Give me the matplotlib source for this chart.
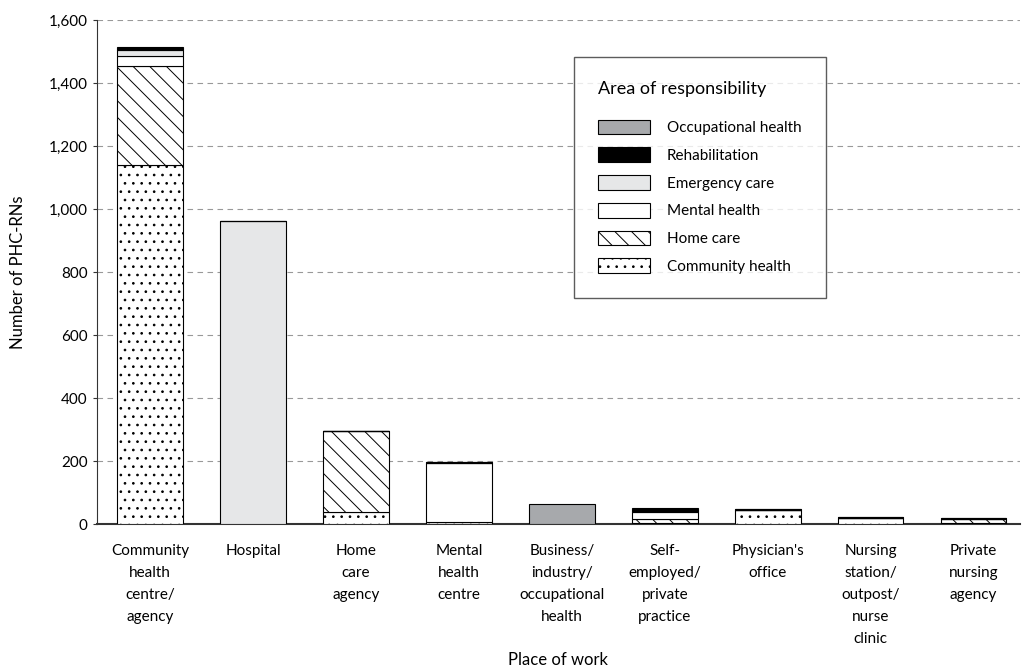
import matplotlib
matplotlib.use('Agg')
import matplotlib.pyplot as plt
import numpy as np
from matplotlib.ticker import FuncFormatter, MultipleLocator

plt.rcParams['font.family'] = ['Lato', 'DejaVu Sans']
plt.rcParams['hatch.linewidth'] = 0.7

places = ['Community\nhealth\ncentre/\nagency', 'Hospital', 'Home\ncare\nagency',
          'Mental\nhealth\ncentre', 'Business/\nindustry/\noccupational\nhealth',
          'Self-\nemployed/\nprivate\npractice', "Physician's\noffice",
          'Nursing\nstation/\noutpost/\nnurse\nclinic', 'Private\nnursing\nagency']

# stacked from bottom to top
community = [1140, 2, 38, 8, 0, 5, 44, 21, 4]
home_care = [315, 0, 257, 0, 0, 10, 0, 0, 13]
mental = [30, 0, 0, 186, 0, 25, 0, 0, 0]
emergency = [20, 960, 0, 0, 0, 3, 0, 0, 0]
rehab = [8, 2, 2, 3, 0, 6, 3, 3, 1]
occupational = [2, 0, 0, 0, 65, 2, 0, 0, 0]

series = [
    ('Community health', community, 'white', '..'),
    ('Home care', home_care, 'white', '\\\\'),
    ('Mental health', mental, 'white', None),
    ('Emergency care', emergency, '#e6e7e8', None),
    ('Rehabilitation', rehab, 'black', None),
    ('Occupational health', occupational, '#a7a9ac', None),
]

fig = plt.figure(figsize=(10.29, 6.72), dpi=100)
ax = fig.add_axes([0.094, 0.22, 0.897, 0.75])

x = np.arange(len(places))
bottom = np.zeros(len(places))
handles = []
for name, vals, color, hatch in series:
    vals = np.array(vals, dtype=float)
    b = ax.bar(x, vals, 0.64, bottom=bottom, color=color, edgecolor='black',
               linewidth=0.8, hatch=hatch, label=name, zorder=3)
    handles.append(b)
    bottom += vals

ax.set_ylim(0, 1600)
ax.set_xlim(-0.52, 8.45)
ax.yaxis.set_major_locator(MultipleLocator(200))
ax.yaxis.set_major_formatter(FuncFormatter(lambda v, p: '{:,.0f}'.format(v)))
ax.grid(axis='y', color='#999999', linestyle=(0, (5, 4)), linewidth=0.8, zorder=0)
for s in ['top', 'right']:
    ax.spines[s].set_visible(False)
ax.spines['left'].set_color('#333333')
ax.spines['bottom'].set_color('#333333')
ax.spines['bottom'].set_linewidth(1.5)
ax.set_xticks(x)
ax.set_xticklabels(places, fontsize=11, va='top', linespacing=1.74)
ax.tick_params(axis='x', length=0, pad=14)
ax.tick_params(axis='y', labelsize=11, length=3, color='#333333')
ax.set_ylabel('Number of PHC-RNs', fontsize=12, labelpad=16)
ax.set_xlabel('Place of work', fontsize=12, va='center')
ax.xaxis.set_label_coords(0.5, -0.27)

leg = ax.legend(handles[::-1], [h.get_label() for h in handles[::-1]],
                title='Area of responsibility', loc='upper left',
                bbox_to_anchor=(0.517, 0.927), borderaxespad=0,
                fontsize=11, title_fontsize=13,
                frameon=True, fancybox=False, edgecolor='#333333',
                handlelength=3.4, handleheight=1.1, labelspacing=0.8,
                borderpad=1.6, handletextpad=1.1)
leg._legend_box.align = 'left'
leg._legend_box.sep = 16
leg.get_frame().set_linewidth(1.0)

fig.savefig('out.png', dpi=100)
